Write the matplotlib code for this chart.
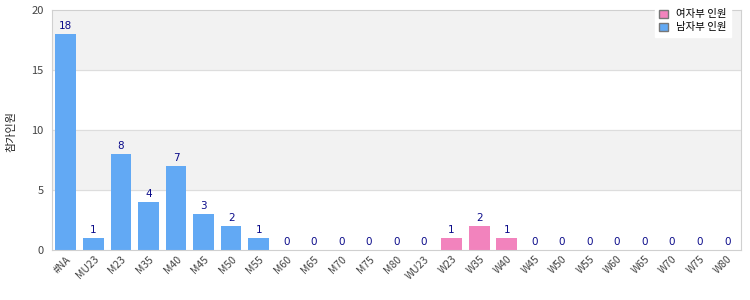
import numpy as np
import matplotlib.pyplot as plt
from matplotlib.patches import Rectangle

plt.rcParams['font.family'] = ['Noto Sans CJK KR', 'DejaVu Sans']

categories = ['#NA', 'MU23', 'M23', 'M35', 'M40', 'M45', 'M50', 'M55', 'M60', 'M65',
              'M70', 'M75', 'M80', 'WU23', 'W23', 'W35', 'W40', 'W45', 'W50', 'W55',
              'W60', 'W65', 'W70', 'W75', 'W80']
male = [18, 1, 8, 4, 7, 3, 2, 1, 0, 0, 0, 0, 0, 0, 0, 0, 0, 0, 0, 0, 0, 0, 0, 0, 0]
female = [0, 0, 0, 0, 0, 0, 0, 0, 0, 0, 0, 0, 0, 0, 1, 2, 1, 0, 0, 0, 0, 0, 0, 0, 0]
female_label = '여자부 인원'
male_label = '남자부 인원'
ylabel = '참가인원'

fig = plt.figure(figsize=(7.5, 3), dpi=100)
ax = fig.add_axes([52/750, 50/300, 689/750, 240/300])

x = np.arange(len(categories))
# bandes de fond
for lo in (5, 15):
    ax.axhspan(lo, lo + 5, color='#f2f2f2', zorder=0)
for y in (5, 10, 15):
    ax.axhline(y, color='#dddddd', lw=0.8, zorder=1)

ax.bar(x, male, width=0.75, color='#62a9f4', zorder=2, label=male_label)
ax.bar(x, female, width=0.75, color='#f283bd', zorder=2, bottom=male, label=female_label)

totals = np.array(male) + np.array(female)
for xi, v in zip(x, totals):
    ax.text(xi, v + 0.25, str(v), ha='center', va='bottom', fontsize=7.5,
            color='#0b0b8a', family=['DejaVu Sans'])

ax.set_xlim(-0.5, len(categories) - 0.5)
ax.set_ylim(0, 20)
ax.set_yticks([0, 5, 10, 15, 20])
ax.set_xticks(x)
ax.set_xticklabels(categories, rotation=45, ha='right', rotation_mode='anchor',
                   fontsize=7.5, color='#444444')
ax.tick_params(axis='y', labelsize=8, colors='#444444', length=0, pad=6)
ax.tick_params(axis='x', length=0, pad=3)
for s in ax.spines.values():
    s.set_color('#d0d0d0')
    s.set_linewidth(0.8)
fig.text(6/750, 0.56, ylabel, rotation=90, ha='left', va='center', fontsize=8, color='#222222')

# légende
h_f = Rectangle((0, 0), 1, 1, facecolor='#f283bd', edgecolor='#777777')
h_m = Rectangle((0, 0), 1, 1, facecolor='#62a9f4', edgecolor='#777777')
leg = fig.legend([h_f, h_m], [female_label, male_label], loc='upper right',
                 bbox_to_anchor=(736/750, 1.0), fontsize=7.5, frameon=True,
                 fancybox=False, framealpha=1, edgecolor='white',
                 handlelength=0.8, handleheight=0.8, handletextpad=0.8,
                 borderpad=0.4, labelspacing=0.3)
leg.set_zorder(10)

fig.savefig('out.png', dpi=100)
